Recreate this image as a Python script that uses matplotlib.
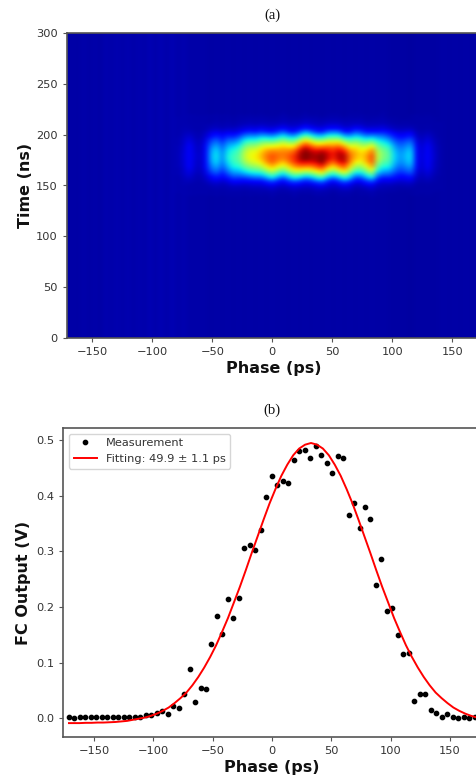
import numpy as np
import matplotlib
matplotlib.use('Agg')
import matplotlib.pyplot as plt

# --- values ---
# scatter points, 75 phases with a 4.62 ps step
phase_start = -171.0
phase_step = 4.62
measurement = [
    .002, .001, .002, .002, .002, .002, .002, .002, .002, .002,
    .002, .002, .002, .002, .005, .005, .009, .013, .008, .022,
    .019, .044, .089, .029, .054, .052, .134, .183, .152, .215,
    .181, .216, .306, .312, .302, .338, .398, .435, .420, .426,
    .423, .465, .480, .483, .468, .489, .474, .459, .441, .472,
    .468, .365, .387, .342, .379, .358, .240, .287, .193, .198,
    .150, .115, .118, .031, .043, .044, .014, .010, .002, .008,
    .002, .001, .002, .001, .002,
]

# fitted curve, read every 5 ps
fit_phase = [-171] + list(range(-167, 178, 5))
fit_values = [
    -.009, -.009, -.009, -.0085, -.0085, -.008, -.008, -.0075, -.007, -.006,
    -.005, -.003, -.001, .001, .004, .008, .013, .019, .027, .036,
    .046, .059, .074, .091, .110, .131, .155, .180, .208, .236,
    .266, .297, .327, .357, .386, .412, .436, .456, .473, .485,
    .492, .495, .492, .485, .473, .456, .436, .412, .386, .357,
    .327, .297, .266, .236, .208, .180, .155, .131, .110, .091,
    .074, .059, .046, .036, .027, .019, .013, .008, .004, .001,
]

# heatmap: strength of each phase column along the bright band
column_strength = [
    .000, .000, .000, .000, .000, .000, .000, .000, .000, .000,
    .000, .000, .000, .000, .000, .000, .000, .000, .000, .000,
    .010, .030, .090, .040, .020, .090, .260, .320, .220, .330,
    .390, .420, .540, .600, .620, .670, .750, .790, .760, .740,
    .780, .830, .930, .980, .940, .930, .980, .900, .850, .920,
    .920, .760, .690, .640, .700, .800, .550, .460, .430, .310,
    .240, .270, .320, .090, .040, .090, .040, .010, .000, .000,
    .000, .000, .000, .000, .000,
]
# faint vertical stripes of the dark blue background
column_floor = [
    .035, .038, .035, .041, .035, .041, .035, .043, .037, .043,
    .037, .045, .037, .045, .039, .047, .039, .047, .039, .047,
    .039, .045, .039, .039, .039, .039, .035, .039, .035, .039,
    .035, .039, .035, .039, .035, .039, .035, .039, .035, .039,
    .035, .039, .035, .039, .035, .039, .035, .039, .035, .039,
    .035, .039, .035, .039, .035, .039, .035, .039, .033, .033,
    .033, .033, .031, .035, .035, .035, .035, .035, .039, .035,
    .039, .035, .037, .035, .037,
]
# up and down wobble of the band in each column, ns
column_shift = [
    0, 0, 0, 0, 0, 0, 0, 0, 0, 0,
    0, 0, 0, 0, 0, 0, 0, 0, 0, 0,
    0, 0, 0, 0, 0, 0, 0, 0, 0, 0,
    -1.5, -.5, .5, .5, 0, .5, -.5, -1.5, 0, 1.5,
    -.5, -1.5, 0, 1.5, .5, -1, -1.5, .5, 1.5, .5,
    -1.5, -1, 1.5, 1, -1, -1.5, .5, 1.5, .5, 0,
    0, 0, 0, 0, 0, 0, 0, 0, 0, 0,
    0, 0, 0, 0, 0,
]
# band shape along time
profile_times = [140, 145, 150, 155, 160, 165, 170, 175, 180, 185, 190, 195, 200, 205, 210, 215, 220]
profile_values = [0, .01, .05, .18, .42, .66, .85, .98, 1.0, .93, .76, .54, .30, .10, .03, .01, 0]

phase_ticks = [-150, -100, -50, 0, 50, 100, 150]

# --- figure ---
W, H = 477, 780
fig = plt.figure(figsize=(W / 100, H / 100), dpi=100)
grey = '#555555'
text_col = '#333333'

def axes_px(left, top, right, bottom):
    return fig.add_axes([left / W, 1 - bottom / H, (right - left) / W, (bottom - top) / H])

def style(ax):
    for s in ax.spines.values():
        s.set_color(grey)
        s.set_linewidth(1.2)
    ax.tick_params(labelsize=8.2, colors=grey, labelcolor=text_col, length=3, width=0.8)
    ax.set_xticks(phase_ticks)
    ax.set_xlabel('Phase (ps)', fontsize=11.5, fontweight='bold', color='#111111', labelpad=3)

# (a) heatmap
ax1 = axes_px(67, 33, 480, 338)
times = np.arange(1.25, 300, 2.5)
Z = np.zeros((len(times), len(column_strength)))
for i in range(len(column_strength)):
    band = np.interp(times - column_shift[i], profile_times, profile_values)
    Z[:, i] = column_floor[i] + column_strength[i] * band
ph_end = phase_start + phase_step * (len(column_strength) - 1)
ax1.imshow(Z, origin='lower', aspect='auto', cmap='jet', vmin=0, vmax=1,
           interpolation='bicubic',
           extent=[phase_start - phase_step / 2, ph_end + phase_step / 2, 0, 300])
ax1.set_xlim(-171, 173)
ax1.set_ylim(0, 300)
ax1.set_yticks([0, 50, 100, 150, 200, 250, 300])
style(ax1)
ax1.set_ylabel('Time (ns)', fontsize=11.5, fontweight='bold', color='#111111', labelpad=2)

# (b) pulse shape
ax2 = axes_px(63.5, 428, 480, 737)
phases = phase_start + phase_step * np.arange(len(measurement))
ax2.plot(phases, measurement, 'o', color='black', ms=3.1, label='Measurement')
ax2.plot(fit_phase, fit_values, color='red', lw=1.4, label='Fitting: 49.9 ± 1.1 ps')
ax2.set_xlim(-175.6, 175.4)
ax2.set_ylim(-0.034, 0.522)
ax2.set_yticks([0, .1, .2, .3, .4, .5])
style(ax2)
ax2.set_ylabel('FC Output (V)', fontsize=11.5, fontweight='bold', color='#111111', labelpad=4)
leg = ax2.legend(loc='upper left', fontsize=8.2, labelcolor=text_col)

fig.text(272 / W, 1 - 15 / H, '(a)', family='Liberation Serif', fontsize=10.5,
         ha='center', va='center', color='#111111')
fig.text(272 / W, 1 - 410 / H, '(b)', family='Liberation Serif', fontsize=10.5,
         ha='center', va='center', color='#111111')

fig.savefig('out.png', dpi=100)
